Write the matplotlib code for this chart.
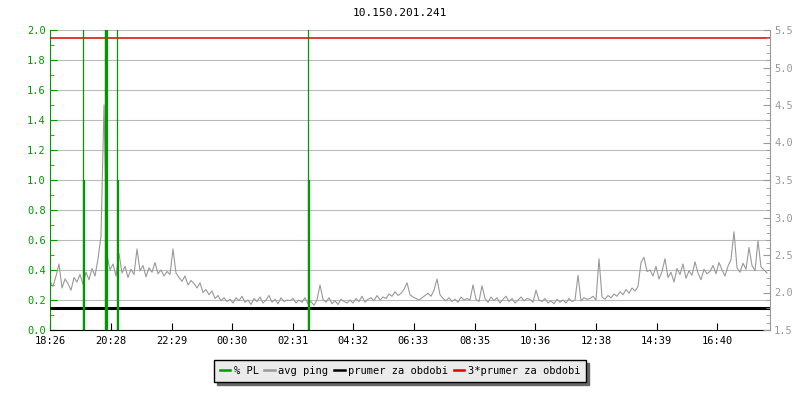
import numpy as np
import matplotlib
matplotlib.use("Agg")
import matplotlib.pyplot as plt
from matplotlib.lines import Line2D
from matplotlib.ticker import MultipleLocator, FormatStrFormatter

plt.rcParams['font.family'] = ['DejaVu Sans Mono']
plt.rcParams['font.size'] = 7

title = "10.150.201.241"

# x axis is minutes since 18:26
tick_minutes = [0, 122, 243, 364, 485, 606, 727, 849, 970, 1092, 1213, 1334]
tick_labels = ['18:26', '20:28', '22:29', '00:30', '02:31', '04:32',
               '06:33', '08:35', '10:36', '12:38', '14:39', '16:40']
span_minutes = 1440

# avg ping [ms], one sample every 6 minutes
ping_step = 6
ping_ms = np.array([
    2.15, 2.08, 2.22, 2.38, 2.06, 2.18, 2.12, 2.03, 2.20, 2.14, 2.24, 2.11, 2.27, 2.17, 2.32, 2.22, 2.45, 2.75, 4.50, 2.50,
    2.30, 2.38, 2.22, 2.52, 2.26, 2.35, 2.20, 2.31, 2.24, 2.58, 2.29, 2.36, 2.21, 2.33, 2.27, 2.40, 2.25, 2.30, 2.22, 2.28,
    2.24, 2.58, 2.26, 2.20, 2.15, 2.22, 2.10, 2.16, 2.12, 2.06, 2.13, 2.00, 2.04, 1.97, 2.02, 1.92, 1.96, 1.89, 1.93, 1.88,
    1.91, 1.86, 1.93, 1.89, 1.95, 1.87, 1.90, 1.84, 1.92, 1.88, 1.94, 1.86, 1.90, 1.96, 1.87, 1.91, 1.85, 1.93, 1.88, 1.90,
    1.89, 1.92, 1.86, 1.90, 1.87, 1.93, 1.85, 1.88, 1.83, 1.90, 2.10, 1.91, 1.87, 1.93, 1.85, 1.89, 1.84, 1.91, 1.88, 1.86,
    1.90, 1.86, 1.92, 1.88, 1.95, 1.87, 1.91, 1.93, 1.89, 1.96, 1.90, 1.94, 1.92, 1.98, 1.95, 2.01, 1.96, 1.99, 2.04, 2.13,
    1.97, 1.94, 1.92, 1.90, 1.93, 1.96, 1.99, 1.95, 2.03, 2.18, 1.97, 1.92, 1.89, 1.93, 1.88, 1.91, 1.87, 1.94, 1.90, 1.92,
    1.90, 2.10, 1.91, 1.88, 2.09, 1.92, 1.87, 1.94, 1.89, 1.93, 1.86, 1.91, 1.95, 1.88, 1.92, 1.86, 1.90, 1.94, 1.89, 1.92,
    1.91, 1.87, 2.03, 1.90, 1.88, 1.92, 1.86, 1.89, 1.85, 1.91, 1.87, 1.90, 1.86, 1.92, 1.88, 1.90, 2.23, 1.89, 1.93, 1.91,
    1.92, 1.95, 1.90, 2.45, 1.94, 1.91, 1.96, 1.93, 1.98, 1.95, 2.01, 1.97, 2.04, 1.99, 2.06, 2.02, 2.08, 2.40, 2.47, 2.28,
    2.30, 2.22, 2.35, 2.18, 2.28, 2.45, 2.20, 2.27, 2.14, 2.32, 2.24, 2.38, 2.19, 2.29, 2.23, 2.41, 2.26, 2.17, 2.31, 2.25,
    2.28, 2.36, 2.25, 2.40, 2.30, 2.22, 2.35, 2.44, 2.81, 2.33, 2.27, 2.39, 2.31, 2.60, 2.36, 2.29, 2.69, 2.34, 2.30, 2.26,
])
ping_t = np.arange(len(ping_ms)) * ping_step

# packet loss [%]
pl_minutes = [67, 111, 113, 135, 518]
pl_pct = [1.0, 5.0, 5.0, 1.0, 1.0]
pl_spike_minutes = [66, 109, 134, 516]
pl_spike_pct = [5.0, 5.0, 5.0, 5.0]

avg_ping = 1.80

green = '#009900'
gray = '#999999'
red = '#dd0000'

fig = plt.figure(figsize=(8, 4), dpi=100)
ax = fig.add_axes([0.0625, 0.175, 0.9, 0.75])
ax2 = ax.twinx()

ax.set_xlim(0, span_minutes)
ax.set_ylim(0, 2.0)
ax2.set_ylim(1.5, 5.5)

ax.yaxis.grid(True, color='#bbbbbb', lw=0.8, zorder=0)
ax.set_axisbelow(True)

ax.plot(ping_t, ping_ms, color=gray, lw=0.8, transform=ax2.transData, zorder=2)
ax.hlines(avg_ping, 0, span_minutes, color='black', lw=2.2,
          transform=ax2.transData, zorder=3)
ax.hlines(3 * avg_ping, 0, span_minutes, color=red, lw=1.1,
          transform=ax2.transData, zorder=3)
ax.vlines(pl_minutes, 0, pl_pct, color=green, lw=1.6, zorder=4)
ax.vlines(pl_spike_minutes, 0, pl_spike_pct, color=green, lw=0.9, zorder=4)

# axes styling
ax.spines['top'].set_visible(False)
ax.spines['right'].set_visible(False)
ax.spines['left'].set_color(green)
ax.spines['bottom'].set_color('black')
for s in ['left', 'top', 'bottom']:
    ax2.spines[s].set_visible(False)
ax2.spines['right'].set_color(gray)

ax.yaxis.set_major_locator(MultipleLocator(0.2))
ax.yaxis.set_minor_locator(MultipleLocator(0.1))
ax.yaxis.set_major_formatter(FormatStrFormatter('%.1f'))
ax.tick_params(axis='y', which='major', direction='in', length=5, color=green,
               labelcolor=green, pad=3, labelsize=7.5)
ax.tick_params(axis='y', which='minor', direction='in', length=3, color=green)

ax.set_xticks(tick_minutes)
ax.set_xticklabels(tick_labels)
ax.tick_params(axis='x', direction='in', length=5, color='black', pad=4,
               labelsize=7.5)

ax2.yaxis.set_major_locator(MultipleLocator(0.5))
ax2.yaxis.set_minor_locator(MultipleLocator(0.1))
ax2.yaxis.set_major_formatter(FormatStrFormatter('%.1f'))
ax2.tick_params(axis='y', which='major', direction='in', length=5, color=gray,
                labelcolor=gray, pad=3, labelsize=7.5)
ax2.tick_params(axis='y', which='minor', direction='in', length=3, color=gray)

fig.text(0.5, 0.967, title, ha='center', va='center', fontsize=8)

handles = [Line2D([], [], color=green, lw=1.8),
           Line2D([], [], color=gray, lw=1.8),
           Line2D([], [], color='black', lw=1.8),
           Line2D([], [], color=red, lw=1.8)]
labels = ['% PL', 'avg ping', 'prumer za obdobi', '3*prumer za obdobi']
leg = fig.legend(handles, labels, loc='center', bbox_to_anchor=(0.5, 1 - 371 / 400),
                 ncol=4, fancybox=False, shadow={'color': '#666666', 'alpha': 1},
                 facecolor='#ebebeb', edgecolor='black', framealpha=1,
                 handlelength=1.0, handletextpad=0.35, columnspacing=0.55,
                 borderpad=0.55, fontsize=7.5)
leg.get_frame().set_linewidth(1.0)

fig.savefig('out.png', dpi=100)
